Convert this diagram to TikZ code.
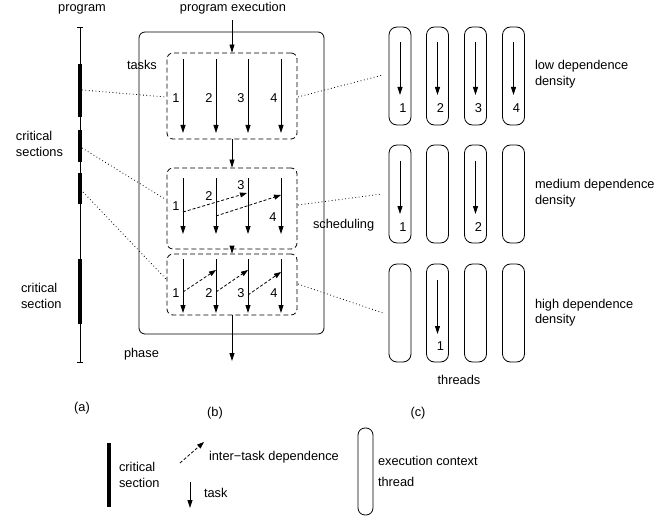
\documentclass[tikz,border=0pt]{standalone}
\usepackage{fontspec}
\setmainfont{Liberation Sans}
\usetikzlibrary{arrows.meta}
\begin{document}
\begin{tikzpicture}[x=1pt,y=-1pt,
  txt/.style={font=\fontsize{12.8}{15}\selectfont, inner sep=0pt, outer sep=0pt},
  lbl/.style={txt, anchor=base},
  lbll/.style={txt, anchor=base west},
  task/.style={line width=0.8pt, -{Triangle[length=8pt,width=5pt]}},
  dep/.style={line width=0.8pt, dash pattern=on 3pt off 2pt, -{Triangle[length=7pt,width=5pt]}},
  phasebox/.style={draw, line width=0.8pt, rounded corners=6pt, inner sep=0pt},
  dbox/.style={draw, line width=0.8pt, dash pattern=on 5pt off 3pt, rounded corners=6pt, inner sep=0pt, minimum width=130pt},
  thr/.style={draw, line width=0.8pt, rounded corners=8pt, inner sep=0pt, minimum width=22pt, minimum height=98pt},
  dotline/.style={line width=0.8pt, dash pattern=on 0.8pt off 2.6pt},
  crit/.style={line width=4pt}
]
\useasboundingbox (0,0) rectangle (672,516);

% ---------- (a) program ----------
\node[lbl] (tprog) at (82,11.5) {program};
\coordinate (ptop) at (80,27);
\coordinate (pbot) at (80,362);
\draw[line width=0.8pt] (ptop) -- (pbot);
\draw[line width=0.8pt] (77,27) -- (83,27);
\draw[line width=0.8pt] (77,362) -- (83,362);
\draw[crit] (80,64) -- (80,117);
\draw[crit] (80,130) -- (80,162);
\draw[crit] (80,173) -- (80,204);
\draw[crit] (80,259) -- (80,324);
\node[lbll] (tcs1) at (16,141) {critical};
\node[lbll] (tcs2) at (16,157) {sections};
\node[lbll] (tcs3) at (21,292.7) {critical};
\node[lbll] (tcs4) at (21,308) {section};
\node[txt] (la) at (82,408) {(a)};

% ---------- (b) program execution ----------
\node[lbl] (tpe) at (233,11.5) {program execution};
\node[phasebox, minimum width=185pt, minimum height=302pt] (phase) at (231.5,183) {};
\node[dbox, minimum height=86pt] (b1) at (232,96) {};
\node[dbox, minimum height=81pt] (b2) at (232,208.5) {};
\node[dbox, minimum height=61pt] (b3) at (232,284.5) {};
\coordinate (pein) at (232,20);
\coordinate (peout) at (232,361);
\draw[task] (pein) -- (b1.north);
\draw[task] (b1.south) -- (b2.north);
\draw[task] (b2.south) -- (b3.north);
\draw[task] (b3.south) -- (peout);
\node[lbll] (ttasks) at (127,70) {tasks};
\node[lbll] (tphase) at (124,357) {phase};
\node[lbll] (tsched) at (313,228) {scheduling};
\node[txt] (lb) at (215,413) {(b)};

% tasks in box 1
\foreach \x/\n in {183/1,216/2,248/3,281/4}{
  \draw[task] (\x,59) -- (\x,133);
  \node[lbl] at (\x-7,103) {\n};
}
% tasks in box 2
\foreach \x in {183,216,248,281}{
  \draw[task] (\x,178) -- (\x,234);
}
\node[lbl] at (176,210.7) {1};
\node[lbl] at (209,200) {2};
\node[lbl] at (241,189.3) {3};
\node[lbl] at (273,221.7) {4};
\draw[dep] (183,212) -- (247,193);
\draw[dep] (216,216) -- (281,195);
% tasks in box 3
\foreach \x/\n in {183/1,216/2,248/3,281/4}{
  \draw[task] (\x,259) -- (\x,313);
  \node[lbl] at (\x-7,297.3) {\n};
}
\draw[dep] (183,292) -- (216,270);
\draw[dep] (216,292) -- (248,270);
\draw[dep] (248,295) -- (281,272);

% ---------- (c) threads ----------
\foreach \c/\x in {1/400,2/437.5,3/475.5,4/513.5}{
  \foreach \r/\y in {1/76,2/194,3/313}{
    \node[thr] (t\r\c) at (\x,\y) {};
  }
}
\foreach \c/\x in {1/400,2/437.5,3/475.5,4/513.5}{
  \draw[task] (\x,42) -- (\x,95);
  \node[lbl] at (\x+3,112.7) {\c};
}
\draw[task] (400,161) -- (400,214);
\node[lbl] at (403,231.5) {1};
\draw[task] (475.5,161) -- (475.5,214);
\node[lbl] at (478.5,231.5) {2};
\draw[task] (437.5,280) -- (437.5,334);
\node[lbl] at (440.5,350.5) {1};

\node[lbll] (tlow1) at (535,70) {low dependence};
\node[lbll] (tlow2) at (535,85.5) {density};
\node[lbll] (tmed1) at (535,189) {medium dependence};
\node[lbll] (tmed2) at (535,204.5) {density};
\node[lbll] (thi1) at (535,308) {high dependence};
\node[lbll] (thi2) at (535,323.5) {density};
\node[lbl] (tthreads) at (459,384) {threads};
\node[txt] (lc) at (418,413) {(c)};

% ---------- dotted mapping lines ----------
\coordinate (s1) at (82,90);
\coordinate (s2) at (82,148);
\coordinate (s3) at (83,192);
\coordinate (e1) at (166,97);
\coordinate (e2) at (165,199);
\coordinate (e3) at (166,279);
\coordinate (r1a) at (298,97);
\coordinate (r2a) at (298,205);
\coordinate (r3a) at (298,284);
\coordinate (r1b) at (383,75);
\coordinate (r2b) at (382,194);
\coordinate (r3b) at (383,313);
\draw[dotline] (s1) -- (e1);
\draw[dotline] (s2) -- (e2);
\draw[dotline] (s3) -- (e3);
\draw[dotline] (r1a) -- (r1b);
\draw[dotline] (r2a) -- (r2b);
\draw[dotline] (r3a) -- (r3b);

% ---------- legend ----------
\coordinate (lcs1) at (109,443);
\coordinate (lcs2) at (109,507);
\draw[crit] (lcs1) -- (lcs2);
\node[lbll] at (119,471) {critical};
\node[lbll] at (119,487) {section};
\coordinate (ld1) at (180,463);
\coordinate (ld2) at (204,442);
\draw[dep] (ld1) -- (ld2);
\node[lbll] at (209,460) {inter−task dependence};
\coordinate (lt1) at (190,482);
\coordinate (lt2) at (190,508);
\draw[task] (lt1) -- (lt2);
\node[lbll] at (204,497) {task};
\node[thr, minimum width=15pt, minimum height=87pt, rounded corners=7pt] (lthr) at (365.5,471.5) {};
\node[lbll] at (378,465) {execution context};
\node[lbll] at (378,486) {thread};
\end{tikzpicture}
\end{document}
